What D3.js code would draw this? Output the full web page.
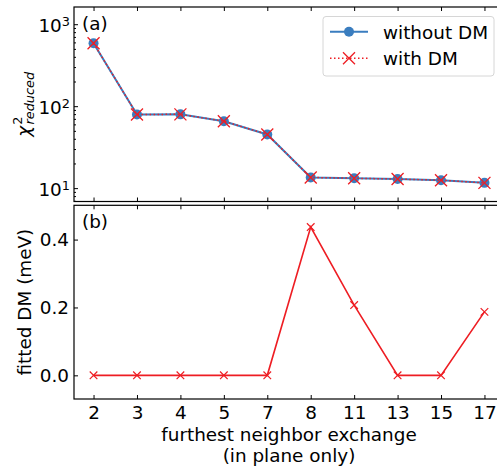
<!DOCTYPE html>
<html>
<head>
<meta charset="utf-8">
<script src="https://cdn.jsdelivr.net/npm/d3@7"></script>
<style>
  html, body { margin: 0; padding: 0; background: #fff; }
  svg { display: block; font-family: "DejaVu Sans", sans-serif; }
</style>
</head>
<body>
<svg id="chart" width="497" height="469"></svg>
<script>
// furthest in-plane neighbour included in the exchange model
const neighbors = ["2", "3", "4", "5", "7", "8", "11", "13", "15", "17"];
// reduced chi-squared of the fits
const chiWithoutDM = [586, 79.3, 79.5, 65.6, 45.2, 13.5, 13.2, 12.9, 12.5, 11.6];
const chiWithDM    = [586, 79.3, 79.5, 65.6, 45.2, 13.5, 13.2, 12.9, 12.5, 11.6];
// fitted DM interaction (meV)
const fittedDM = [0, 0, 0, 0, 0, 0.437, 0.207, 0, 0, 0.187];
const dmTicks = [0.0, 0.2, 0.4];
const chiTicks = [10, 100, 1000];

const svg = d3.select("#chart");
const left = 74, right = 504;
const top1 = 7, bot1 = 201.5;
const top2 = 205.3, bot2 = 399;
const blue = "#3a7dbf", red = "#ee1d23";
const fs = 18.4;

const x = d3.scalePoint().domain(neighbors).range([left, right]).padding(0.45);
const yChi = d3.scaleLog().domain([10 ** 0.837, 10 ** 3.21]).range([bot1, top1]);
const yDM = d3.scaleLinear().domain([-0.0697, 0.501]).range([bot2, top2]);

const cross = (g, cx, cy, s, col, w) => {
  g.append("path")
    .attr("d", `M${cx - s},${cy - s}L${cx + s},${cy + s}M${cx - s},${cy + s}L${cx + s},${cy - s}`)
    .attr("stroke", col).attr("stroke-width", w).attr("fill", "none");
};

// ---------- panel (a) ----------
const gA = svg.append("g");
// inward x ticks on bottom and top
gA.append("g").attr("transform", `translate(0,${bot1})`)
  .call(d3.axisBottom(x).tickSize(-4).tickFormat(""));
gA.append("g").attr("transform", `translate(0,${top1})`)
  .call(d3.axisTop(x).tickSize(-4).tickFormat(""));

// log y axis: major and minor inward ticks
const minor = [];
for (let e = 0; e <= 3; e++) for (let m = 2; m <= 9; m++) {
  const v = m * 10 ** e;
  if (v >= yChi.domain()[0] && v <= yChi.domain()[1]) minor.push(v);
}
gA.append("g").attr("transform", `translate(${left},0)`)
  .call(d3.axisLeft(yChi).tickValues(minor).tickSize(-2).tickFormat(""));
gA.append("g").attr("transform", `translate(${left},0)`)
  .call(d3.axisLeft(yChi).tickValues(chiTicks).tickSize(-4).tickFormat(""));

// tick labels written as 10^n
chiTicks.forEach(v => {
  const t = gA.append("text")
    .attr("x", left - 4).attr("y", yChi(v) + 7.4)
    .attr("text-anchor", "end").attr("font-size", fs).attr("fill", "#000");
  t.append("tspan").text("10");
  t.append("tspan").attr("dy", -5.8).attr("font-size", fs * 0.7).text(Math.round(Math.log10(v)));
});

// frame
gA.append("rect").attr("x", left).attr("y", top1)
  .attr("width", right - left).attr("height", bot1 - top1)
  .attr("fill", "none").attr("stroke", "#000").attr("stroke-width", 1.2);

// series
const lineA = d3.line().x((d, i) => x(neighbors[i])).y(d => yChi(d));
gA.append("path").datum(chiWithoutDM).attr("d", lineA)
  .attr("fill", "none").attr("stroke", blue).attr("stroke-width", 2);
gA.selectAll("circle.wo").data(chiWithoutDM).join("circle")
  .attr("cx", (d, i) => x(neighbors[i])).attr("cy", d => yChi(d))
  .attr("r", 5).attr("fill", blue);
gA.append("path").datum(chiWithDM).attr("d", lineA)
  .attr("fill", "none").attr("stroke", red).attr("stroke-width", 1.5)
  .attr("stroke-dasharray", "1.5,2.5");
chiWithDM.forEach((d, i) => cross(gA, x(neighbors[i]), yChi(d), 6, red, 1.3));

gA.append("text").attr("x", 82).attr("y", 30).attr("font-size", fs).text("(a)");

// y label: chi^2_reduced
const yl = gA.append("text")
  .attr("transform", `translate(30,${(top1 + bot1) / 2}) rotate(-90)`)
  .attr("text-anchor", "middle").attr("font-size", fs);
yl.append("tspan").attr("font-style", "italic").text("χ");
yl.append("tspan").attr("font-size", fs * 0.7).attr("dy", -8).attr("dx", 1).text("2");
yl.append("tspan").attr("font-size", fs * 0.7).attr("font-style", "italic")
  .attr("dy", 12).attr("dx", -8).text("reduced");

// legend
const lg = gA.append("g");
lg.append("rect").attr("x", 323).attr("y", 16.5).attr("width", 171).attr("height", 59.5)
  .attr("rx", 3).attr("fill", "#fff").attr("fill-opacity", 0.8)
  .attr("stroke", "#d6d6d6").attr("stroke-width", 1);
lg.append("line").attr("x1", 330).attr("x2", 368).attr("y1", 31.7).attr("y2", 31.7)
  .attr("stroke", blue).attr("stroke-width", 2);
lg.append("circle").attr("cx", 349).attr("cy", 31.7).attr("r", 5).attr("fill", blue);
lg.append("line").attr("x1", 330).attr("x2", 368).attr("y1", 58.3).attr("y2", 58.3)
  .attr("stroke", red).attr("stroke-width", 1.5).attr("stroke-dasharray", "1.5,2.5");
cross(lg, 349, 58.3, 6, red, 1.3);
[{ label: "without DM", y: 31.7 }, { label: "with DM", y: 58.3 }].forEach(it => {
  lg.append("text").attr("x", 383).attr("y", it.y + 6.8).attr("font-size", fs).text(it.label);
});

// ---------- panel (b) ----------
const gB = svg.append("g");
gB.append("g").attr("transform", `translate(0,${top2})`)
  .call(d3.axisTop(x).tickSize(-4).tickFormat(""));
const xAxB = gB.append("g").attr("transform", `translate(0,${bot2})`)
  .call(d3.axisBottom(x).tickSize(-4).tickPadding(7));
xAxB.selectAll("text").attr("font-size", fs).attr("font-family", "DejaVu Sans").attr("fill", "#000");
const yAxB = gB.append("g").attr("transform", `translate(${left},0)`)
  .call(d3.axisLeft(yDM).tickValues(dmTicks).tickSize(-4).tickPadding(5).tickFormat(d3.format(".1f")));
yAxB.selectAll("text").attr("font-size", fs).attr("font-family", "DejaVu Sans").attr("fill", "#000");

gB.append("rect").attr("x", left).attr("y", top2)
  .attr("width", right - left).attr("height", bot2 - top2)
  .attr("fill", "none").attr("stroke", "#000").attr("stroke-width", 1.2);

const lineB = d3.line().x((d, i) => x(neighbors[i])).y(d => yDM(d));
gB.append("path").datum(fittedDM).attr("d", lineB)
  .attr("fill", "none").attr("stroke", red).attr("stroke-width", 1.6);
fittedDM.forEach((d, i) => cross(gB, x(neighbors[i]), yDM(d), 3.8, red, 1.2));

gB.append("text").attr("x", 82).attr("y", 228).attr("font-size", fs).text("(b)");

gB.append("text")
  .attr("transform", `translate(31,${(top2 + bot2) / 2}) rotate(-90)`)
  .attr("text-anchor", "middle").attr("font-size", fs).text("fitted DM (meV)");

// two-line x label
const cx = (left + right) / 2;
gB.append("text").attr("text-anchor", "middle").attr("font-size", fs)
  .attr("x", cx).attr("y", 440.5).text("furthest neighbor exchange");
gB.append("text").attr("text-anchor", "middle").attr("font-size", fs)
  .attr("x", cx).attr("y", 462.3).text("(in plane only)");

// domain lines are covered by the frames
svg.selectAll(".domain").remove();
svg.selectAll(".tick line").attr("stroke", "#000").attr("stroke-width", 1);
</script>
</body>
</html>
